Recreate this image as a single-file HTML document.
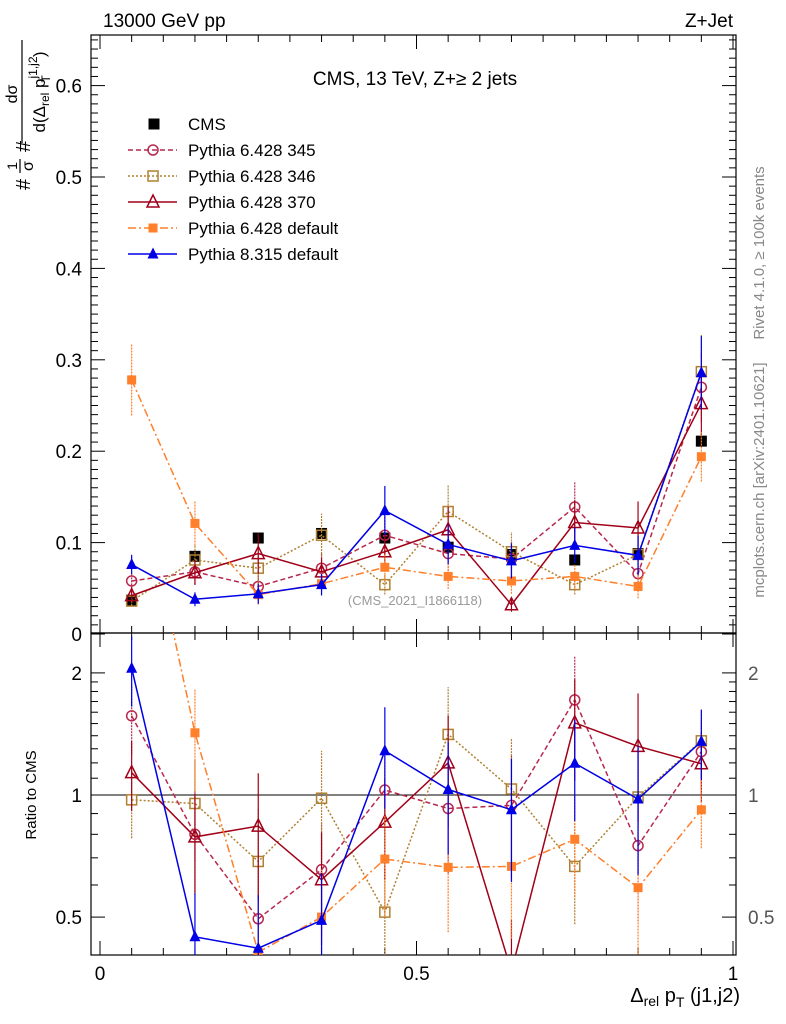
<!DOCTYPE html>
<html><head><meta charset="utf-8"><style>
body{margin:0;background:#fff;}
svg{font-family:"Liberation Sans",sans-serif;display:block}
</style></head><body>
<svg id="c" width="786" height="1024" viewBox="0 0 786 1024" xmlns="http://www.w3.org/2000/svg"></svg>
<script>
const bins=[0.05,0.15,0.25,0.35,0.45,0.55,0.65,0.75,0.85,0.95];
const cms=[0.037,0.085,0.105,0.110,0.105,0.095,0.087,0.081,0.088,0.211];
const p345=[0.058,0.068,0.052,0.072,0.108,0.088,0.082,0.139,0.066,0.270];
const p346=[0.036,0.081,0.072,0.108,0.054,0.134,0.090,0.054,0.087,0.287];
const p370=[0.042,0.067,0.088,0.068,0.090,0.114,0.032,0.122,0.116,0.252];
const p6def=[0.278,0.121,0.043,0.055,0.073,0.063,0.058,0.063,0.052,0.194];
const p8def=[0.076,0.038,0.044,0.054,0.135,0.098,0.080,0.097,0.086,0.286];
const relErr=[0.14,0.2,0.25,0.22,0.2,0.22,0.24,0.2,0.25,0.14];
const xTicks=[0,0.5,1], xTickLabels=["0","0.5","1"];
const yTicks=[0,0.1,0.2,0.3,0.4,0.5,0.6];
const rTicks=[0.5,1,2];
const svg=document.getElementById('c');
const NS='http://www.w3.org/2000/svg';
function el(t,a,p){const e=document.createElementNS(NS,t);for(const k in a)e.setAttribute(k,a[k]);(p||svg).appendChild(e);return e;}
const L=91,R=736,T=35,M=633,B=955;
const X=v=>100+v*633;
const Y=v=>634-v*914;
const RY=v=>795-Math.log10(v)*405.6;
const defs=el('defs',{});
const c1=el('clipPath',{id:'cm'},defs);el('rect',{x:L,y:T,width:R-L,height:M-T},c1);
const c2=el('clipPath',{id:'cr'},defs);el('rect',{x:L,y:M,width:R-L,height:B-M},c2);
let f=el('rect',{x:L,y:T,width:R-L,height:M-T,fill:'none',stroke:'#000','stroke-width':1.2});

f=el('rect',{x:L,y:M,width:R-L,height:B-M,fill:'none',stroke:'#000','stroke-width':1.2});

el('line',{x1:L,x2:R,y1:RY(1),y2:RY(1),stroke:'#000'});
for(let i=0;i<=20;i++){const v=i*0.05;const x=X(v);const len=i%10==0?14:7;
 el('line',{x1:x,x2:x,y1:B,y2:B-len,stroke:'#000'});el('line',{x1:x,x2:x,y1:M,y2:M-len,stroke:'#000'});
 el('line',{x1:x,x2:x,y1:M,y2:M+len,stroke:'#000'});el('line',{x1:x,x2:x,y1:T,y2:T+len,stroke:'#000'});}
xTicks.forEach((v,i)=>{const t=el('text',{x:X(v),y:980,'font-size':19,'text-anchor':'middle'});t.textContent=xTickLabels[i];
 });
for(let i=0;i<=65;i++){const v=i*0.01;const y=Y(v);if(y<T)break;const len=i%10==0?14:7;
 el('line',{x1:L,x2:L+len,y1:y,y2:y,stroke:'#000'});el('line',{x1:R,x2:R-len,y1:y,y2:y,stroke:'#000'});}
yTicks.forEach(v=>{const t=el('text',{x:82,y:Y(v)+7,'font-size':19,'text-anchor':'end'});t.textContent=v==0?'0':v.toFixed(1);
 });
[0.5,0.6,0.7,0.8,0.9,1,1.1,1.2,1.3,1.4,1.5,1.6,1.7,1.8,1.9,2].forEach(v=>{const y=RY(v);const len=rTicks.includes(v)?14:7;
 el('line',{x1:L,x2:L+len,y1:y,y2:y,stroke:'#000'});el('line',{x1:R,x2:R-len,y1:y,y2:y,stroke:'#000'});});
rTicks.forEach(v=>{let t=el('text',{x:82,y:RY(v)+7,'font-size':19,'text-anchor':'end'});t.textContent=String(v);
 
 t=el('text',{x:748,y:RY(v)+7,'font-size':19,fill:'#555'});t.textContent=String(v);
 });
function marker(g,x,y,m,col,s){s=s||6;
 if(m=='sqf')el('rect',{x:x-s,y:y-s,width:2*s,height:2*s,fill:col},g);
 else if(m=='sqo')el('rect',{x:x-s+1,y:y-s+1,width:2*s-2,height:2*s-2,fill:'none',stroke:col,'stroke-width':1.5},g);
 else if(m=='ci')el('circle',{cx:x,cy:y,r:s-1,fill:'none',stroke:col,'stroke-width':1.5},g);
 else if(m=='tro')el('polygon',{points:`${x},${y-s-1} ${x-s},${y+s-1} ${x+s},${y+s-1}`,fill:'none',stroke:col,'stroke-width':1.5},g);
 else if(m=='trf')el('polygon',{points:`${x},${y-s-1} ${x-s},${y+s-1} ${x+s},${y+s-1}`,fill:col},g);}
const series=[
 {n:'pythia-6428-345',d:p345,c:'#b8284e',m:'ci',da:'5,3',lab:'Pythia 6.428 345',s:6},
 {n:'pythia-6428-346',d:p346,c:'#b08030',m:'sqo',da:'2,2',lab:'Pythia 6.428 346',s:6},
 {n:'pythia-6428-370',d:p370,c:'#a00018',m:'tro',da:'',lab:'Pythia 6.428 370',s:6},
 {n:'pythia-6428-default',d:p6def,c:'#ff7f2a',m:'sqf',da:'8,3,2,3',lab:'Pythia 6.428 default',s:4.5},
 {n:'pythia-8315-default',d:p8def,c:'#0000e6',m:'trf',da:'',lab:'Pythia 8.315 default',s:5.5}];
const gc=el('g',{'clip-path':'url(#cm)'});
bins.forEach((b,i)=>{marker(gc,X(b),Y(cms[i]),'sqf','#000',5.5);});
series.forEach(s=>{
 const g=el('g',{'clip-path':'url(#cm)'});
 const gr=el('g',{'clip-path':'url(#cr)'});
 el('polyline',{points:bins.map((b,i)=>X(b)+','+Y(s.d[i])).join(' '),fill:'none',stroke:s.c,'stroke-width':1.5,'stroke-dasharray':s.da},g);
 const rat=s.d.map((v,i)=>v/cms[i]);
 el('polyline',{points:bins.map((b,i)=>X(b)+','+RY(rat[i])).join(' '),fill:'none',stroke:s.c,'stroke-width':1.5,'stroke-dasharray':s.da},gr);
 bins.forEach((b,i)=>{const e=s.d[i]*relErr[i];
  el('line',{x1:X(b),x2:X(b),y1:Y(s.d[i]-e),y2:Y(s.d[i]+e),stroke:s.c,'stroke-width':1.2,'stroke-dasharray':s.da?'2,1':''},g);
  marker(g,X(b),Y(s.d[i]),s.m,s.c,s.s);
  const re=rat[i]*relErr[i]*1.4;
  el('line',{x1:X(b),x2:X(b),y1:RY(Math.max(rat[i]-re,0.01)),y2:RY(rat[i]+re),stroke:s.c,'stroke-width':1.2,'stroke-dasharray':s.da?'2,1':''},gr);
  marker(gr,X(b),RY(rat[i]),s.m,s.c,s.s);});
});
const lg=el('g',{});
let ly=124;
marker(lg,154,ly,'sqf','#000',5.5);
let t=el('text',{x:188,y:ly+6,'font-size':17},lg);t.textContent='CMS';
series.forEach((s,k)=>{const y=ly+26*(k+1);
 el('line',{x1:128,x2:177,y1:y,y2:y,stroke:s.c,'stroke-width':1.5,'stroke-dasharray':s.da},lg);
 marker(lg,153,y,s.m,s.c,s.s);
 const tt=el('text',{x:188,y:y+6,'font-size':17},lg);tt.textContent=s.lab;
 });
</script>
<svg width="786" height="1024" style="position:absolute;left:0;top:0" xmlns="http://www.w3.org/2000/svg">
<text x="103" y="27" font-size="19">13000 GeV pp</text>
<text x="733" y="27" font-size="19" text-anchor="end">Z+Jet</text>
<text x="415" y="85" font-size="19" text-anchor="middle">CMS, 13 TeV, Z+≥ 2 jets</text>
<text x="415" y="605" font-size="13" fill="#999" text-anchor="middle">(CMS_2021_I1866118)</text>
<g transform="rotate(-90)">
<text x="-190" y="30" font-size="20">#</text>
<text x="-166" y="17" font-size="14" text-anchor="middle">1</text>
<line x1="-173" x2="-159" y1="20" y2="20" stroke="#000" stroke-width="1.2"/>
<text x="-166" y="33" font-size="16" text-anchor="middle">σ</text>
<text x="-152" y="30" font-size="20">#</text>
<text x="-94" y="17" font-size="16" text-anchor="middle">dσ</text>
<line x1="-143" x2="-40" y1="22" y2="22" stroke="#000" stroke-width="1.2"/>
<text x="-92" y="45" font-size="17" text-anchor="middle">d(Δ<tspan font-size="12" dy="4">rel</tspan><tspan dy="-4"> p</tspan><tspan font-size="12" dy="-8">j1,j2</tspan><tspan font-size="12" dx="-26" dy="13">T</tspan><tspan dx="18" dy="-5">)</tspan></text>
</g>
<text transform="translate(36,795) rotate(-90)" font-size="15" text-anchor="middle">Ratio to CMS</text>
<text x="740" y="1002" font-size="20" text-anchor="end">Δ<tspan font-size="14" dy="4">rel</tspan><tspan dy="-4"> p</tspan><tspan font-size="14" dy="5">T</tspan><tspan dy="-5"> (j1,j2)</tspan></text>
<text transform="translate(764,253) rotate(-90)" font-size="15" fill="#888" text-anchor="middle">Rivet 4.1.0, ≥ 100k events</text>
<text transform="translate(764,480) rotate(-90)" font-size="15" fill="#888" text-anchor="middle">mcplots.cern.ch [arXiv:2401.10621]</text>
</svg>
</body></html>
